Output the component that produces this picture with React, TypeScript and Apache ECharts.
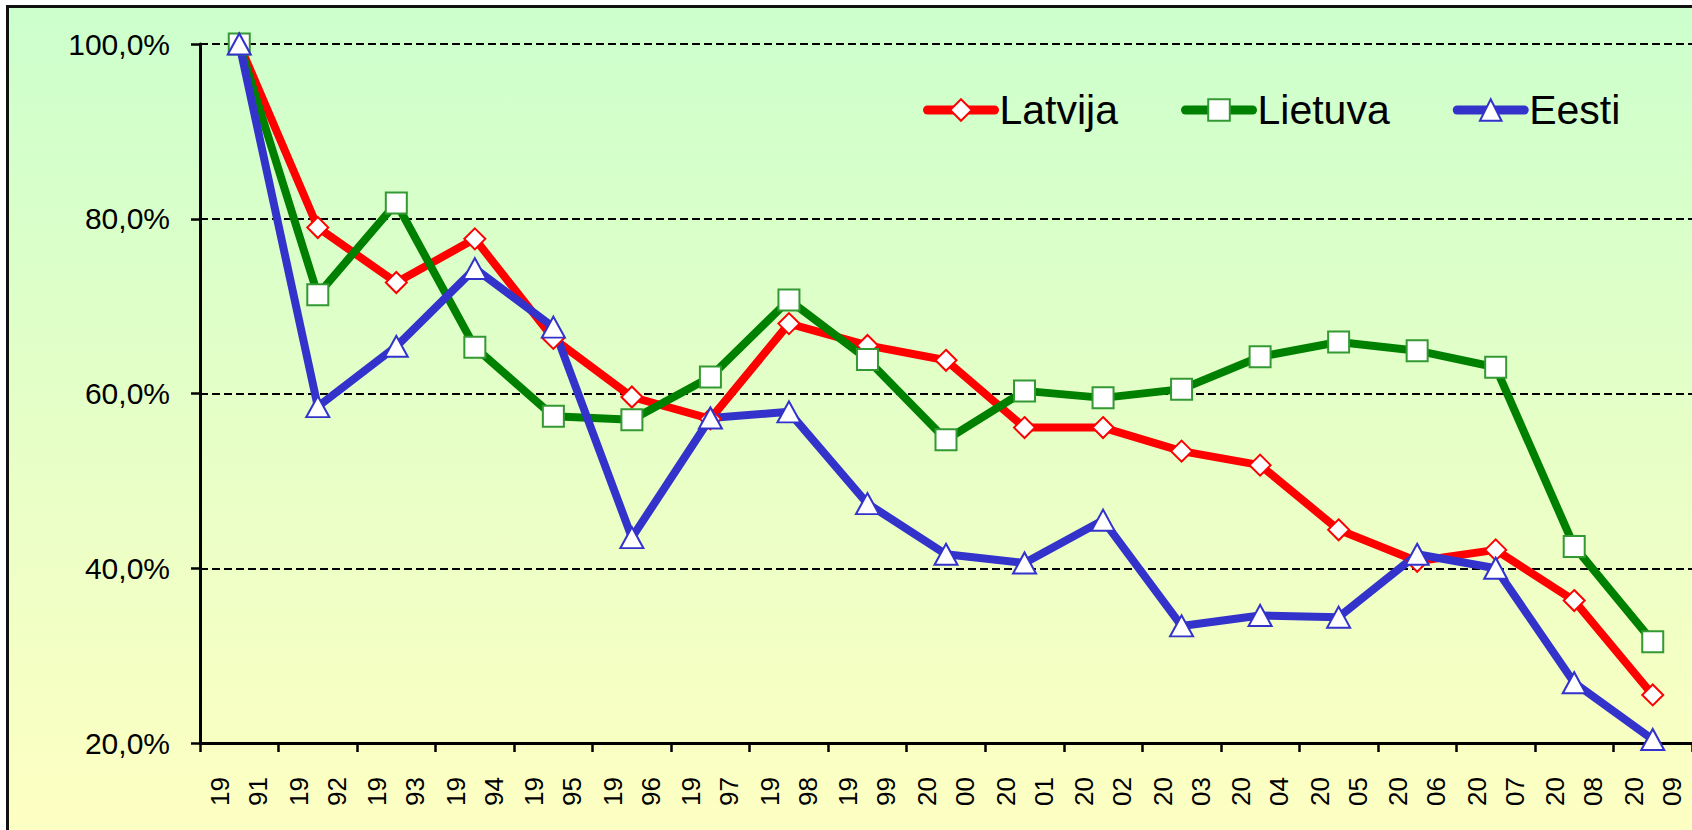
import React, { useEffect, useRef } from "react";
import * as echarts from "echarts";

const years = [
  "1991", "1992", "1993", "1994", "1995", "1996", "1997", "1998", "1999", "2000",
  "2001", "2002", "2003", "2004", "2005", "2006", "2007", "2008", "2009",
];
const latvija = [100, 79.0, 72.7, 77.7, 66.3, 59.6, 57.1, 68.0, 65.5, 63.8, 56.1, 56.1, 53.4, 51.8, 44.4, 40.8, 42.1, 36.3, 25.5];
const lietuva = [100, 71.3, 81.8, 65.3, 57.4, 57.0, 61.9, 70.7, 63.9, 54.7, 60.3, 59.5, 60.5, 64.2, 65.9, 64.9, 63.0, 42.5, 31.6];
const eesti = [100, 58.5, 65.4, 74.3, 67.6, 43.5, 57.2, 57.9, 47.4, 41.6, 40.6, 45.5, 33.4, 34.6, 34.4, 41.6, 40.0, 26.9, 20.4];
const yMin = 20;
const yMax = 100;
const yStep = 20;

const FONT = "'Liberation Sans', Arial, sans-serif";

export default function App() {
  const ref = useRef<HTMLDivElement>(null);

  useEffect(() => {
    if (!ref.current) return;
    const chart = echarts.init(ref.current, undefined, { renderer: "svg" });
    const mk = (name: string, data: number[], color: string, border: string, symbol: string, size: any) => ({
      name,
      type: "line",
      data,
      symbol,
      symbolSize: size,
      clip: false,
      lineStyle: { color, width: 8, join: "round" },
      itemStyle: { color: "#FFFFFF", borderColor: border, borderWidth: 2 },
      emphasis: { disabled: true },
    });
    chart.setOption({
      animation: false,
      textStyle: { fontFamily: FONT },
      grid: { left: 200, right: 0, top: 44, bottom: 87, containLabel: false },
      legend: {
        left: 923,
        top: 89,
        padding: 0,
        itemWidth: 67,
        itemHeight: 27,
        itemGap: 63,
        lineStyle: { width: 9, cap: "round" },
        textStyle: { fontSize: 41, color: "#000", fontFamily: FONT, lineHeight: 42 },
        data: ["Latvija", "Lietuva", "Eesti"],
      },
      xAxis: {
        type: "category",
        data: years,
        boundaryGap: true,
        axisLine: { lineStyle: { color: "#000", width: 3 } },
        axisTick: { show: true, length: 9, interval: 0, lineStyle: { color: "#000", width: 2.5 } },
        axisLabel: {
          interval: 0,
          rotate: 90,
          margin: 34,
          fontSize: 26,
          lineHeight: 38,
          color: "#000",
          fontFamily: FONT,
          formatter: (v: string) => v.slice(0, 2) + "\n" + v.slice(2),
        },
        splitLine: { show: false },
      },
      yAxis: {
        type: "value",
        min: yMin,
        max: yMax,
        interval: yStep,
        axisLine: { show: true, lineStyle: { color: "#000", width: 3 } },
        axisTick: { show: true, length: 9, lineStyle: { color: "#000", width: 2.5 } },
        axisLabel: {
          margin: 30,
          fontSize: 30,
          color: "#000",
          fontFamily: FONT,
          formatter: (v: number) => v.toFixed(1).replace(".", ",") + "%",
        },
        splitLine: { show: true, lineStyle: { color: "#000", width: 2, type: [8, 4] } },
      },
      series: [
        mk("Latvija", latvija, "#FF0000", "#FF0000", "diamond", 21),
        mk("Lietuva", lietuva, "#008000", "#339933", "rect", 21),
        mk("Eesti", eesti, "#3333CC", "#3333CC", "triangle", [23, 21]),
      ],
    });
    return () => chart.dispose();
  }, []);

  return (
    <div style={{ position: "fixed", left: 0, top: 0, width: 1692, height: 830, overflow: "hidden", background: "#fff" }}>
      <div
        style={{
          position: "absolute",
          left: 6,
          top: 5,
          width: 1800,
          height: 900,
          border: "3px solid #111",
          boxSizing: "border-box",
          background: "linear-gradient(to bottom, #CCFFCC 0px, #FFFFC2 840px)",
        }}
      />
      <div ref={ref} style={{ position: "absolute", left: 0, top: 0, width: 1692, height: 830 }} />
    </div>
  );
}
